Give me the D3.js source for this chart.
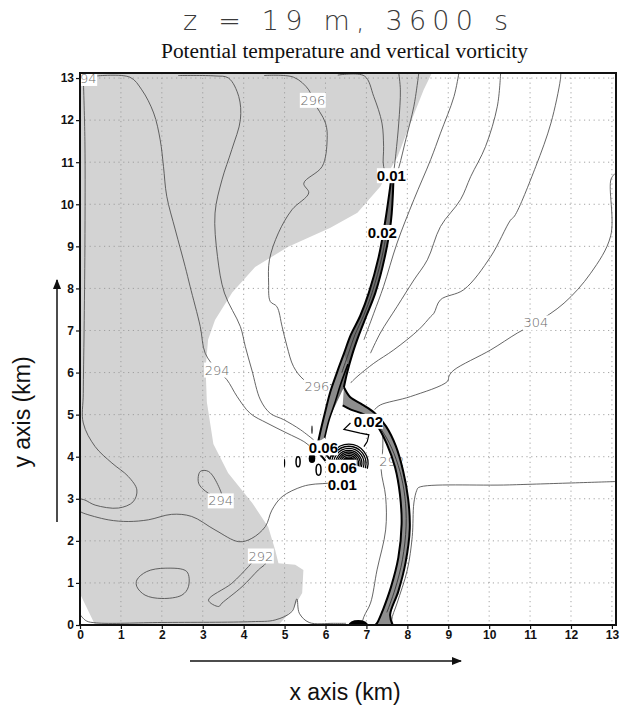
<!DOCTYPE html>
<html>
<head>
<meta charset="utf-8">
<script src="https://cdn.jsdelivr.net/npm/d3@7"></script>
<style>
  body { margin: 0; background: #fff; }
  svg { display: block; }
</style>
</head>
<body>
<svg id="chart" width="627" height="707"></svg>
<script>
// ---- axes ----
const xTickValues = [0,1,2,3,4,5,6,7,8,9,10,11,12,13];
const yTickValues = [0,1,2,3,4,5,6,7,8,9,10,11,12,13];
const xExtent = [0, 13.1];
const yExtent = [0, 13.12];

// ---- potential temperature: shaded cool region (km) ----
const coolRegion = [[0,13.12],[8.6,13.12],[8.40,12.72],[8.08,11.94],[7.76,11.13],[7.34,10.42],[6.78,9.80],
  [6.12,9.44],[5.09,8.99],[4.28,8.51],[3.72,7.90],[3.30,7.25],[3.13,6.78],[3.07,6.1],[3.10,5.3],[3.26,4.3],
  [3.62,3.61],[4.21,2.90],[4.60,2.33],[4.77,1.78],[4.85,1.47],[5.26,1.43],[5.46,1.31],[5.43,0.76],
  [5.19,0.36],[4.85,0],[2.5,0],[0.37,0],[0,0.74],[0,6.5]];

// ---- potential temperature contours (km) ----
const th294West = [[0.08,13.02],[0.12,11.5],[0.12,9.0],[0.1,7.0],[0.08,5.5],[0.08,4.80],[0.37,4.24],[0.78,3.85],
  [1.18,3.53],[1.39,3.21],[1.30,2.93],[0.94,2.78],[0.37,2.85],[0.12,2.97],[0.0,3.0]];
const th294Main = [[0.4,13.05],[1.22,13.02],[1.51,12.72],[1.80,12.17],[1.96,11.53],[2.04,10.90],[2.12,10.19],
  [2.33,9.39],[2.57,8.52],[2.69,8.05],[2.94,7.09],[3.06,6.46],[3.35,6.06],[3.59,5.83],[3.84,5.43],[4.16,5.03],
  [4.57,4.80],[5.06,4.56],[5.47,4.36],[5.63,4.24]];
const th295 = [[2.4,13.06],[3.3,13.05],[3.63,13.0],[3.88,12.56],[3.92,12.01],[3.71,11.30],[3.47,10.58],[3.30,9.79],
  [3.36,8.76],[3.53,7.89],[3.92,7.09],[4.04,6.62],[4.20,6.06],[4.41,5.35],[4.65,5.03],[4.98,4.88],[5.39,4.64],[5.71,4.40]];
const th296 = [[4.5,13.06],[5.22,13.02],[5.59,12.72],[5.69,12.47],[6.00,11.93],[6.04,11.53],[5.92,10.90],
  [5.47,10.50],[5.59,10.27],[5.18,9.87],[4.85,9.32],[4.63,8.68],[4.61,8.13],[4.65,7.69],[4.81,7.57],[4.94,7.09],
  [5.06,6.62],[5.22,6.14],[5.47,5.83],[5.79,5.67],[6.15,5.72]];
const th297 = [[6.3,13.07],[6.95,13.05],[7.18,12.56],[7.38,11.93],[7.42,11.37],[7.42,10.90],[7.55,10.6]];
const th298 = [[7.79,13.12],[7.83,12.72],[7.79,11.93],[7.72,11.2],[7.66,10.7]];
const th299 = [[8.28,13.12],[8.16,12.33],[7.96,11.53],[7.80,10.9],[7.70,10.6]];
const th300 = [[9.26,13.12],[9.14,12.56],[8.81,11.69],[8.57,11.06],[8.16,10.11],[7.75,9.08],[7.42,8.05],
  [7.18,7.41],[6.94,6.78]];
const th302 = [[10.28,13.12],[10.20,12.33],[9.91,11.37],[9.55,10.66],[9.30,10.11],[8.81,9.47],[8.49,8.68],
  [8.16,8.2],[7.75,7.57],[7.34,6.94],[7.10,6.46]];
const th303 = [[11.75,13.12],[11.74,12.96],[11.51,11.93],[11.14,10.90],[10.62,9.72],[10.52,9.62],[10.04,8.76],
  [9.38,7.97],[8.81,7.73],[8.65,7.41],[8.57,7.33],[8.28,7.02],[7.67,6.54],[7.18,6.22],[6.77,5.90],[6.61,5.75]];
const th304 = [[13.1,10.75],[12.98,10.6],[12.97,9.25],[12.48,8.36],[11.83,7.65],[11.14,7.18],[10.69,6.94],
  [10.04,6.54],[9.14,6.06],[9.02,5.92],[8.98,5.79],[8.08,5.43],[7.34,5.23],[7.2,5.12]];
const thEast = [[13.1,3.41],[10.5,3.33],[8.28,3.27],[8.23,3.2],[8.16,2.90],[8.12,2.10],[8.0,1.31],[7.75,0.52],
  [7.62,0.12],[7.66,0.0]];
const thFrontWest = [[7.2,5.05],[7.38,4.6],[7.40,4.2],[7.36,3.69],[7.47,3.05],[7.47,2.26],[7.26,1.31],[7.10,0.52],
  [6.94,0.2],[6.88,0.0]];
const th294South = [[0.0,2.7],[0.08,2.66],[0.69,2.50],[1.18,2.46],[1.67,2.50],[2.24,2.63],[2.73,2.58],[3.30,2.26],
  [3.88,1.98],[4.20,2.06],[4.53,2.34],[4.69,2.73],[4.94,3.05],[5.43,3.29],[5.75,3.35],[6.08,3.37],[6.3,3.42]];
const th292Floor = [[0.0,0.25],[0.15,0.1],[0.4,0.05],[2.0,0.06],[4.2,0.08],[4.77,0.12],[5.18,0.32],[5.30,0.62],
  [5.36,0.28],[5.6,0.06],[6.2,0.04],[6.5,0.04]];
const loop294 = [[2.94,3.65],[3.14,3.65],[3.39,3.29],[3.47,3.0],[3.14,3.13],[2.90,3.37]];
const loopSW = [[1.39,1.07],[1.63,1.27],[2.08,1.35],[2.61,1.27],[2.65,0.91],[2.49,0.71],[2.0,0.63],[1.59,0.71],[1.39,0.91]];
const loop292 = [[3.14,0.59],[3.71,0.99],[4.12,1.39],[4.28,1.55],[4.53,1.47],[4.36,1.31],[3.96,0.91],[3.47,0.52],[3.39,0.44]];

const thetaLines = [th294West, th294Main, th295, th296, th297, th298, th299, th300, th302, th303, th304,
  thEast, thFrontWest, th294South, th292Floor];
const thetaLoops = [loop294, loopSW, loop292];

// ---- vertical vorticity: gust-front bands (km) ----
const frontWest = [[7.60,10.55],[7.46,9.6],[7.30,8.75],[7.06,7.9],[6.85,7.35],[6.62,6.9],[6.45,6.45],
  [6.28,6.0],[6.12,5.55],[6.0,5.1],[5.9,4.7],[5.82,4.35]];
const frontEast = [[7.66,10.55],[7.60,9.6],[7.45,8.75],[7.22,7.9],[7.0,7.35],[6.82,6.9],[6.66,6.45],
  [6.53,6.0],[6.45,5.65]];
const frontMid = [[7.47,9.2],[7.38,8.75],[7.14,7.9],[6.93,7.35],[6.72,6.9],[6.56,6.45],[6.40,6.0]];
const branchInner = [[6.55,6.2],[6.38,5.75],[6.22,5.25],[6.08,4.85],[5.98,4.45]];
const hookOuter = [[6.45,5.65],[6.60,5.42],[6.90,5.24],[7.20,5.04],[7.48,4.72],[7.72,4.25],[7.90,3.65],
  [8.02,3.0],[8.06,2.3],[7.96,1.5],[7.78,0.8],[7.58,0.25],[7.64,0.0]];
const hookInner = [[6.42,5.22],[6.62,5.12],[6.95,5.0],[7.25,4.75],[7.50,4.30],[7.70,3.75],[7.82,3.1],
  [7.86,2.4],[7.78,1.6],[7.60,0.9],[7.40,0.35],[7.28,0.08],[7.22,0.0]];
const hookMid = [[7.1,4.95],[7.38,4.62],[7.62,4.2],[7.82,3.65],[7.94,3.05],[7.97,2.35],[7.88,1.55],
  [7.70,0.85],[7.50,0.3]];
const vortInner = [[6.61,4.80],[6.45,4.65],[6.85,4.56],[7.06,4.52],[7.02,4.36],[6.94,4.24]];
const vortStrokes = [[[5.86,4.07],[6.0,3.9]], [[5.96,4.12],[6.1,3.95]], [[6.06,4.15],[6.18,4.0]]];

// vortex core: centre and ring radii (km)
const vortexCentre = [6.57, 3.84];
const vortexRings = [0.08, 0.12, 0.16, 0.2, 0.24, 0.28, 0.32, 0.37, 0.42, 0.47];
const vortexCore = 0.07;

// isolated vorticity cells: centre x, centre y, half-width, half-height (km)
const filledCells = [[5.0,3.85,0.015,0.1],[5.67,3.96,0.08,0.11],[5.67,4.64,0.015,0.1],[6.8,0.0,0.24,0.12]];
const openCells = [[5.33,3.88,0.05,0.12],[5.83,3.69,0.06,0.13]];

// ---- contour labels ----
const thetaLabels = [["296",5.69,12.47],["296",5.79,5.67],["294",3.35,6.06],["294",3.44,2.95],
  ["292",4.42,1.64],["304",11.14,7.18],["292",7.62,3.88]];
const cornerLabel = ["94", 0.2, 12.99];
const vortLabels = [["0.01",7.61,10.68],["0.02",7.39,9.33],["0.02",7.05,4.84],["0.06",5.95,4.21],
  ["0.01",6.41,3.33],["0.06",6.41,3.75]];

// ---- layout ----
const svg = d3.select("#chart");
const M = {left: 80, right: 616, top: 73, bottom: 625};
const x = d3.scaleLinear().domain(xExtent).range([M.left, M.right]);
const y = d3.scaleLinear().domain(yExtent).range([M.bottom, M.top]);

svg.append("rect").attr("width", 627).attr("height", 707).attr("fill", "#fff");

svg.append("defs").append("clipPath").attr("id", "plotClip")
  .append("rect").attr("x", M.left).attr("y", M.top)
  .attr("width", M.right - M.left).attr("height", M.bottom - M.top);

const plot = svg.append("g").attr("clip-path", "url(#plotClip)");

const smooth = d3.line().x(d => x(d[0])).y(d => y(d[1])).curve(d3.curveCatmullRom.alpha(0.5));
const smoothClosed = d3.line().x(d => x(d[0])).y(d => y(d[1])).curve(d3.curveCatmullRomClosed.alpha(0.5));
const straight = d3.line().x(d => x(d[0])).y(d => y(d[1]));

// shaded region
plot.append("path").attr("d", straight(coolRegion)).attr("fill", "#d3d3d3");

// dotted grid
const grid = plot.append("g").attr("stroke", "#9a9a9a").attr("stroke-width", 0.9)
  .attr("stroke-dasharray", "1.2,3.6");
grid.selectAll("line.gx").data(xTickValues.slice(1)).join("line")
  .attr("x1", d => x(d)).attr("x2", d => x(d)).attr("y1", M.top).attr("y2", M.bottom);
grid.selectAll("line.gy").data(yTickValues.slice(1)).join("line")
  .attr("y1", d => y(d)).attr("y2", d => y(d)).attr("x1", M.left).attr("x2", M.right);

// theta contours
const thetaG = plot.append("g").attr("fill", "none").attr("stroke", "#4a4a4a").attr("stroke-width", 0.85);
thetaG.selectAll("path.open").data(thetaLines).join("path").attr("d", smooth);
thetaG.selectAll("path.loop").data(thetaLoops).join("path").attr("d", smoothClosed);

// label helper with white box
function boxedLabel(g, txt, px, py, cls, pad) {
  const gg = g.append("g");
  const t = gg.append("text").attr("x", px).attr("y", py).attr("class", cls)
    .attr("text-anchor", "middle").attr("dominant-baseline", "central").text(txt);
  const b = t.node().getBBox();
  gg.insert("rect", "text").attr("x", b.x - pad).attr("y", b.y + 1).attr("width", b.width + 2 * pad)
    .attr("height", b.height - 2).attr("fill", "#fff");
  return gg;
}

const labelG = plot.append("g");
thetaLabels.forEach(d => boxedLabel(labelG, d[0], x(d[1]), y(d[2]), "thl", 1));
boxedLabel(labelG, cornerLabel[0], x(cornerLabel[1]), y(cornerLabel[2]), "thl", 1);

// vorticity bands
const bandG = plot.append("g");
bandG.append("path").attr("d", straight(frontWest.concat(frontEast.slice().reverse())))
  .attr("fill", "#6e6e6e");
bandG.append("path").attr("d", straight(frontWest.slice(6).concat(branchInner.slice().reverse())))
  .attr("fill", "#8a8a8a");
bandG.append("path").attr("d", straight(hookOuter.concat(hookInner.slice().reverse())))
  .attr("fill", "#8e8e8e");

const vortG = plot.append("g").attr("fill", "none").attr("stroke", "#000");
[frontWest, frontEast, hookOuter, hookInner].forEach(p =>
  vortG.append("path").attr("d", smooth(p)).attr("stroke-width", 2));
[frontMid, hookMid].forEach(p =>
  vortG.append("path").attr("d", smooth(p)).attr("stroke-width", 0.9).attr("stroke", "#333"));
vortG.append("path").attr("d", smooth(branchInner)).attr("stroke-width", 1.6);
vortG.append("path").attr("d", straight(vortInner)).attr("stroke-width", 1.2);
vortStrokes.forEach(p => vortG.append("path").attr("d", straight(p)).attr("stroke-width", 2));

// vortex rings
const cx = x(vortexCentre[0]), cy = y(vortexCentre[1]);
const ring = d3.arc();
const kmPx = x(1) - x(0);
vortG.selectAll("path.ring").data(vortexRings).join("path")
  .attr("transform", `translate(${cx},${cy})`)
  .attr("stroke-width", 1.3)
  .attr("d", r => ring({innerRadius: r * kmPx, outerRadius: r * kmPx, startAngle: -1.85, endAngle: 1.85}));
plot.append("ellipse").attr("cx", cx).attr("cy", cy - 1)
  .attr("rx", vortexCore * kmPx * 2.4).attr("ry", vortexCore * kmPx * 1.7).attr("fill", "#000");

// isolated cells
plot.selectAll("ellipse.cf").data(filledCells).join("ellipse")
  .attr("cx", d => x(d[0])).attr("cy", d => y(d[1]))
  .attr("rx", d => x(d[2]) - x(0)).attr("ry", d => y(0) - y(d[3])).attr("fill", "#000");
plot.selectAll("ellipse.co").data(openCells).join("ellipse")
  .attr("cx", d => x(d[0])).attr("cy", d => y(d[1]))
  .attr("rx", d => x(d[2]) - x(0)).attr("ry", d => y(0) - y(d[3]))
  .attr("fill", "none").attr("stroke", "#000").attr("stroke-width", 1.5);

// vorticity labels
const vLabG = plot.append("g");
vortLabels.forEach(d => boxedLabel(vLabG, d[0], x(d[1]), y(d[2]), "vl", 0.5));

// frame
svg.append("rect").attr("x", M.left).attr("y", M.top)
  .attr("width", M.right - M.left).attr("height", M.bottom - M.top)
  .attr("fill", "none").attr("stroke", "#111").attr("stroke-width", 2);

// axes
const xAxis = svg.append("g").attr("transform", `translate(0,${M.bottom})`)
  .call(d3.axisBottom(x).tickValues(xTickValues).tickSize(4).tickPadding(1).tickFormat(d3.format("d")));
const yAxis = svg.append("g").attr("transform", `translate(${M.left},0)`)
  .call(d3.axisLeft(y).tickValues(yTickValues).tickSize(4).tickPadding(2).tickFormat(d3.format("d")));
[xAxis, yAxis].forEach(a => {
  a.select(".domain").remove();
  a.selectAll(".tick line").attr("stroke", "#111").attr("stroke-width", 1.2);
  a.selectAll(".tick text").attr("class", "tk").attr("fill", "#111");
});

// titles
svg.append("text").attr("x", 183).attr("y", 30).attr("class", "title")
  .attr("textLength", 325).attr("lengthAdjust", "spacing").text("z = 19 m, 3600 s");
svg.append("text").attr("x", 161).attr("y", 58).attr("class", "subtitle")
  .attr("textLength", 367).attr("lengthAdjust", "spacingAndGlyphs")
  .text("Potential temperature and vertical vorticity");

svg.append("text").attr("x", 345).attr("y", 700).attr("class", "axlab").attr("text-anchor", "middle")
  .text("x axis (km)");
svg.append("text").attr("transform", "translate(30,412) rotate(-90)").attr("class", "axlab")
  .attr("text-anchor", "middle").text("y axis (km)");

// direction arrows
const defs = svg.select("defs");
defs.append("marker").attr("id", "head").attr("viewBox", "0 0 10 10").attr("refX", 9).attr("refY", 5)
  .attr("markerWidth", 7).attr("markerHeight", 7).attr("orient", "auto")
  .append("path").attr("d", "M0,1 L10,5 L0,9 Z").attr("fill", "#111");
svg.append("line").attr("x1", 190).attr("x2", 461).attr("y1", 661).attr("y2", 661)
  .attr("stroke", "#111").attr("stroke-width", 1.5).attr("marker-end", "url(#head)");
svg.append("line").attr("x1", 57).attr("x2", 57).attr("y1", 522).attr("y2", 280)
  .attr("stroke", "#111").attr("stroke-width", 1.5).attr("marker-end", "url(#head)");
</script>
<style>
  .thl { font-family: "DejaVu Sans", sans-serif; font-weight: 300; font-size: 13px; fill: #6a6a6a; }
  .vl { font-family: "Liberation Sans", Arial, sans-serif; font-weight: bold; font-size: 15px; fill: #000; }
  .tk { font-family: "Liberation Sans Narrow", "Liberation Sans", sans-serif; font-weight: bold; font-size: 12px; }
  .title { font-family: "DejaVu Sans", sans-serif; font-weight: 200; font-size: 27px; fill: #3a3a3a; }
  .subtitle { font-family: "Liberation Serif", "Times New Roman", serif; font-size: 20px; fill: #111; }
  .axlab { font-family: "Liberation Sans", Arial, sans-serif; font-size: 23px; fill: #111; }
</style>
</body>
</html>
